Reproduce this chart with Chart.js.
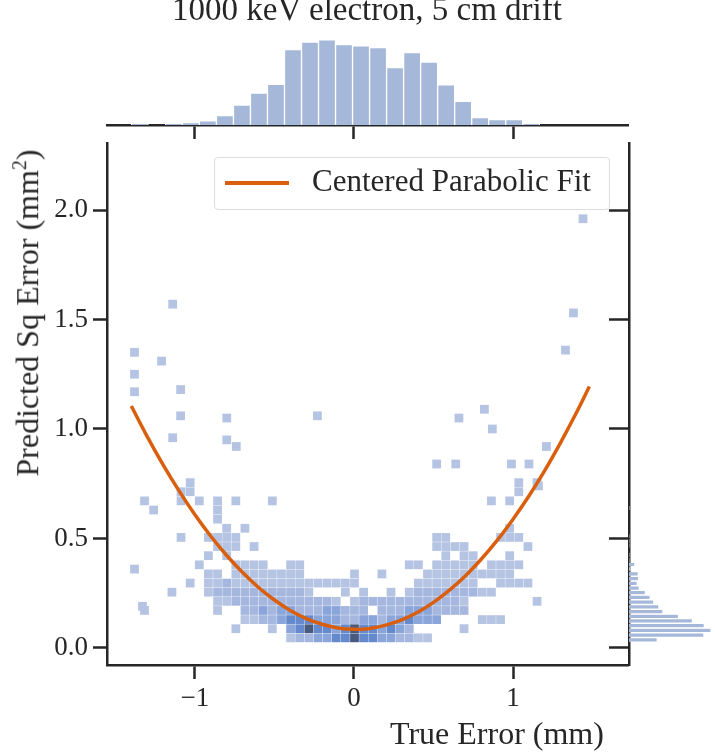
<!DOCTYPE html>
<html><head><meta charset="utf-8">
<script src="https://cdn.jsdelivr.net/npm/chart.js@4"></script>
<style>
body{margin:0;background:#fff;font-family:"Liberation Serif","DejaVu Serif",serif;color:#262626}
#wrap{position:relative;width:715px;height:755px}
canvas{position:absolute;left:0;top:0}
.t{position:absolute;white-space:nowrap}
</style></head><body>
<div id="wrap">
<canvas id="main" width="715" height="755"></canvas>
<canvas id="top" width="715" height="755"></canvas>
<canvas id="right" width="715" height="755"></canvas>
<div class="t" style="left:0;width:734px;text-align:center;top:-9px;font-size:33px">1000 keV electron, 5 cm drift</div>
<div class="t" style="left:390px;top:715px;font-size:32px">True Error (mm)</div>
<div class="t" style="left:27px;top:313px;font-size:32px;transform:translate(-50%,-50%) rotate(-90deg)">Predicted Sq Error (mm<sup style="font-size:20px">2</sup>)</div>
<div class="t" style="left:214px;top:157px;width:394px;height:51px;border:1.5px solid #ddd;border-radius:4px;background:rgba(255,255,255,0.85)">
  <span style="position:absolute;left:10px;top:23px;width:64px;height:3.5px;background:#d95f0e"></span>
  <span style="position:absolute;left:97px;top:5px;font-size:31px">Centered Parabolic Fit</span>
</div>
</div>
<script>
// ==================== Data ====================
const xMin = -1.553, xMax = 1.723;
const yMin = -0.078, yMax = 2.306;

// 2D histogram: rows from bottom, one digit per cell (0 = empty, 5 = densest)
const cellX0 = -1.317, cellDX = 0.0574;
const cellY0 = 0.046, cellDY = 0.0417;
const gridRows = [
  "00000000000000001223344544332211000000000000",
  "00000000001000103454434544343200000100000000",
  "00000000000112234443332233233433300001110000",
  "10000000100223233222332220222333222200000000",
  "00000000112222222222210122222222222100000001",
  "00010001222222222210001010010122222221100000",
  "00000101121111111111111100000011111110011110",
  "00000001101111111100000100100001111111111000",
  "00000010001111001100000000000110111110111100",
  "00000001010000000000000000000000010110001000",
  "00000000111010000000000000000000111100000010",
  "00001001111000000000000000000000110000011100",
  "00000000010100000000000000000000000000001000",
  "00000000100000000000000000000000000000000000",
  "01000000100000000000000000000000000000000000",
  "10001010101000100000000000000000000000101000",
  "00001100000000000000000000000000000000000100",
  "00000100000000000000000000000000000000000101"
];
const outlierX = [-1.38,-1.38,-1.38,-1.21,-1.14,-1.09,-1.09,-1.14,-0.80,-0.80,-0.74,-0.23,0.66,0.82,0.87,1.44,1.38,1.33,1.21,1.16,0.52,0.64,0.99,1.10,-1.33,-1.38];
const outlierY = [1.35,1.25,1.17,1.31,1.57,1.18,1.06,0.96,1.05,0.95,0.92,1.06,1.05,1.09,1.00,1.96,1.53,1.36,0.92,0.74,0.84,0.84,0.84,0.84,0.19,0.36];

// centered parabolic fit
const fitX = [-1.4,-1.3,-1.2,-1.1,-1.0,-0.9,-0.8,-0.7,-0.6,-0.5,-0.4,-0.3,-0.2,-0.1,0,0.1,0.2,0.3,0.4,0.5,0.6,0.7,0.8,0.9,1.0,1.1,1.2,1.3,1.4,1.48];
const fitY = [1.105,0.965,0.836,0.717,0.608,0.510,0.422,0.344,0.276,0.219,0.171,0.134,0.108,0.091,0.085,0.089,0.104,0.128,0.163,0.208,0.264,0.329,0.405,0.491,0.588,0.694,0.811,0.939,1.076,1.194];

// top marginal histogram (true error)
const topX0 = -1.40, topDX = 0.107;
const topCounts = [4,0,4,7,12,28,59,94,120,222,244,251,237,233,228,169,213,185,118,70,22,16,16,4];

// right marginal histogram (predicted sq error)
const rightY0 = 0.037, rightDY = 0.0215;
const rightCounts = [83,221,242,222,187,146,100,88,73,62,48,30,24,28,27,5,17,2,2,0,2,2,2,0,0,0,0,0,2];

const levelColors = ['', '#b6c4e3', '#a5b7df', '#8aa5da', '#6489cd', '#4a5a7e'];
const histColor = '#a6b8d9';
const ink = '#262626';

// ==================== Helpers ====================
function fixW(w) { return s => { s.width = w; }; }
function fixH(h) { return s => { s.height = h; }; }
const serif = {family: '"Liberation Serif", serif', size: 27};

// ==================== Main chart ====================
const levelData = [[], [], [], [], [], []];
gridRows.forEach((row, r) => {
    row.split('').forEach((c, k) => {
        const v = +c;
        if (v > 0) levelData[v].push({x: cellX0 + cellDX * k, y: cellY0 + cellDY * r});
    });
});
outlierX.forEach((x, i) => levelData[1].push({x: x, y: outlierY[i]}));

const cellSets = [1,2,3,4,5].map(v => ({
    type: 'scatter', data: levelData[v], pointStyle: 'rect', pointRadius: 6.2,
    backgroundColor: levelColors[v], borderWidth: 0, order: 2
}));

new Chart(document.getElementById('main'), {
    type: 'scatter',
    data: {datasets: [...cellSets, {
        type: 'line', data: fitX.map((x, i) => ({x: x, y: fitY[i]})),
        borderColor: '#d95f0e', borderWidth: 3.5, pointRadius: 0, tension: 0.4, fill: false, order: 1
    }]},
    options: {
        responsive: false, animation: false, events: [],
        layout: {padding: {top: 143, right: 87, left: 0, bottom: 0}},
        plugins: {legend: {display: false}, tooltip: {enabled: false}},
        scales: {
            x: {type: 'linear', min: xMin, max: xMax, afterFit: fixH(90),
                afterBuildTicks: s => { s.ticks = [-1,0,1].map(v => ({value: v})); },
                border: {color: ink, width: 2.5},
                grid: {drawOnChartArea: false, tickLength: 14, tickWidth: 2.5, tickColor: ink},
                ticks: {color: ink, font: serif, padding: 4, callback: v => v < 0 ? '\u2212' + Math.abs(v) : '' + v}},
            y: {type: 'linear', min: yMin, max: yMax, afterFit: fixW(107),
                afterBuildTicks: s => { s.ticks = [0,0.5,1,1.5,2].map(v => ({value: v})); },
                border: {color: ink, width: 2.5},
                grid: {drawOnChartArea: false, tickLength: 14, tickWidth: 2.5, tickColor: ink},
                ticks: {color: ink, font: serif, padding: 5, callback: v => v.toFixed(1)}}
        }
    }
});

// ==================== Top histogram ====================
new Chart(document.getElementById('top'), {
    type: 'bar',
    data: {datasets: [{
        data: topCounts.map((c, i) => ({x: topX0 + topDX * (i + 0.5), y: c})),
        backgroundColor: histColor, borderColor: '#fff', borderWidth: 1,
        barPercentage: 1, categoryPercentage: 1
    }]},
    options: {
        responsive: false, animation: false, events: [],
        layout: {padding: {top: 35, right: 87, left: 107, bottom: 0}},
        plugins: {legend: {display: false}, tooltip: {enabled: false}},
        scales: {
            x: {type: 'linear', min: xMin, max: xMax, offset: false, afterFit: fixH(630),
                afterBuildTicks: s => { s.ticks = [-1,0,1].map(v => ({value: v})); },
                border: {color: ink, width: 2.5},
                grid: {offset: false, drawOnChartArea: false, tickLength: 14, tickWidth: 2.5, tickColor: ink},
                ticks: {display: false}},
            y: {display: false, min: 0, max: 265}
        }
    }
});

// ==================== Right histogram ====================
new Chart(document.getElementById('right'), {
    type: 'bar',
    data: {datasets: [{
        data: rightCounts.map((c, i) => ({y: rightY0 + rightDY * i, x: c})),
        backgroundColor: histColor, borderColor: '#fff', borderWidth: 0.5,
        barPercentage: 0.9, categoryPercentage: 1
    }]},
    options: {
        indexAxis: 'y', responsive: false, animation: false, events: [],
        layout: {padding: {top: 143, right: 0, left: 0, bottom: 90}},
        plugins: {legend: {display: false}, tooltip: {enabled: false}},
        scales: {
            y: {type: 'linear', min: yMin, max: yMax, offset: false, afterFit: fixW(629),
                afterBuildTicks: s => { s.ticks = [0,0.5,1,1.5,2].map(v => ({value: v})); },
                border: {color: ink, width: 2.5},
                grid: {offset: false, drawOnChartArea: false, tickLength: 20, tickWidth: 2.5, tickColor: ink},
                ticks: {display: false}},
            x: {display: false, min: 0, max: 254}
        }
    }
});
</script>
</body></html>
